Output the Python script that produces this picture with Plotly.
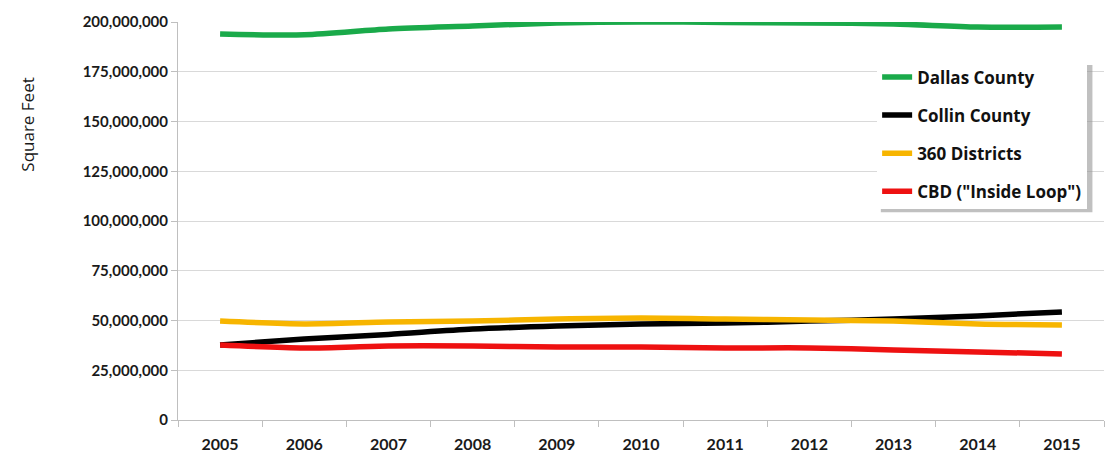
import plotly.graph_objects as go

years = ["2005", "2006", "2007", "2008", "2009", "2010", "2011", "2012", "2013", "2014", "2015"]
dallas = [194.0e6, 193.6e6, 196.5e6, 198.0e6, 199.5e6, 200.0e6, 199.8e6, 199.5e6, 199.0e6, 197.5e6, 197.5e6]
collin = [37.7e6, 40.7e6, 43.0e6, 45.7e6, 47.2e6, 48.2e6, 48.7e6, 49.7e6, 50.7e6, 52.3e6, 54.3e6]
districts = [49.7e6, 48.3e6, 49.2e6, 49.7e6, 50.7e6, 51.2e6, 50.7e6, 50.2e6, 49.7e6, 48.3e6, 47.8e6]
cbd = [37.7e6, 36.2e6, 37.2e6, 37.2e6, 36.7e6, 36.7e6, 36.2e6, 36.2e6, 35.2e6, 34.2e6, 33.2e6]

series = [
    ("Dallas County", dallas, "#1aaa4a"),
    ("Collin County", collin, "#000000"),
    ("360 Districts", districts, "#f7b500"),
    ('CBD ("Inside Loop")', cbd, "#ee1111"),
]

tickvals = [0, 25e6, 50e6, 75e6, 100e6, 125e6, 150e6, 175e6, 200e6]
ticktext = ["0", "25,000,000", "50,000,000", "75,000,000", "100,000,000",
            "125,000,000", "150,000,000", "175,000,000", "200,000,000"]

fig = go.Figure()
for i, (name, vals, col) in enumerate(series):
    fig.add_trace(go.Scatter(
        x=years, y=vals, name=name, mode="lines",
        line=dict(color=col, width=5.5, shape="spline", smoothing=0.8),
        cliponaxis=False, legendgroup=f"g{i}",
    ))

FONT = "Lato"
LFONT = "Open Sans"

# legend shadow (thin offset gray edge)
fig.add_shape(type="rect", xref="paper", yref="paper",
              x0=0.759, x1=0.9875, y0=0.522, y1=0.892,
              fillcolor="rgba(140,140,140,0.55)", line=dict(width=0), layer="above")

fig.add_annotation(
    text="Square Feet", xref="paper", yref="paper",
    x=-0.162, y=0.742, xanchor="center", yanchor="middle",
    textangle=-90, showarrow=False,
    font=dict(family=LFONT, size=17, color="#1a1a1a"),
)

fig.update_layout(
    width=1115, height=456,
    margin=dict(l=178, r=11, t=22, b=36),
    paper_bgcolor="white", plot_bgcolor="white",
    font=dict(family=FONT, size=15, color="#1a1a1a"),
    showlegend=True,
    legend=dict(
        x=0.755, y=0.906, xanchor="left", yanchor="top",
        bgcolor="white", bordercolor="white", borderwidth=0,
        font=dict(family=LFONT, size=17, color="#111111", weight="bold"),
        tracegroupgap=13, itemwidth=30,
    ),
    xaxis=dict(
        type="category", tickson="boundaries", ticks="outside", ticklen=6,
        tickcolor="#bfbfbf", showline=True, linecolor="#bfbfbf", linewidth=1,
        showgrid=False, tickfont=dict(family=FONT, size=16, weight="bold"),
        ticklabelstandoff=10, automargin=False,
        range=[-0.5, 10.5],
    ),
    yaxis=dict(
        range=[0, 200e6], tickvals=tickvals, ticktext=ticktext,
        ticks="outside", ticklen=6, tickcolor="#bfbfbf",
        showline=True, linecolor="#bfbfbf", linewidth=1,
        showgrid=True, gridcolor="#d9d9d9", gridwidth=1, zeroline=False,
        tickfont=dict(family=FONT, size=15, weight="bold"), automargin=False,
    ),
)

fig.write_html("out.html")
